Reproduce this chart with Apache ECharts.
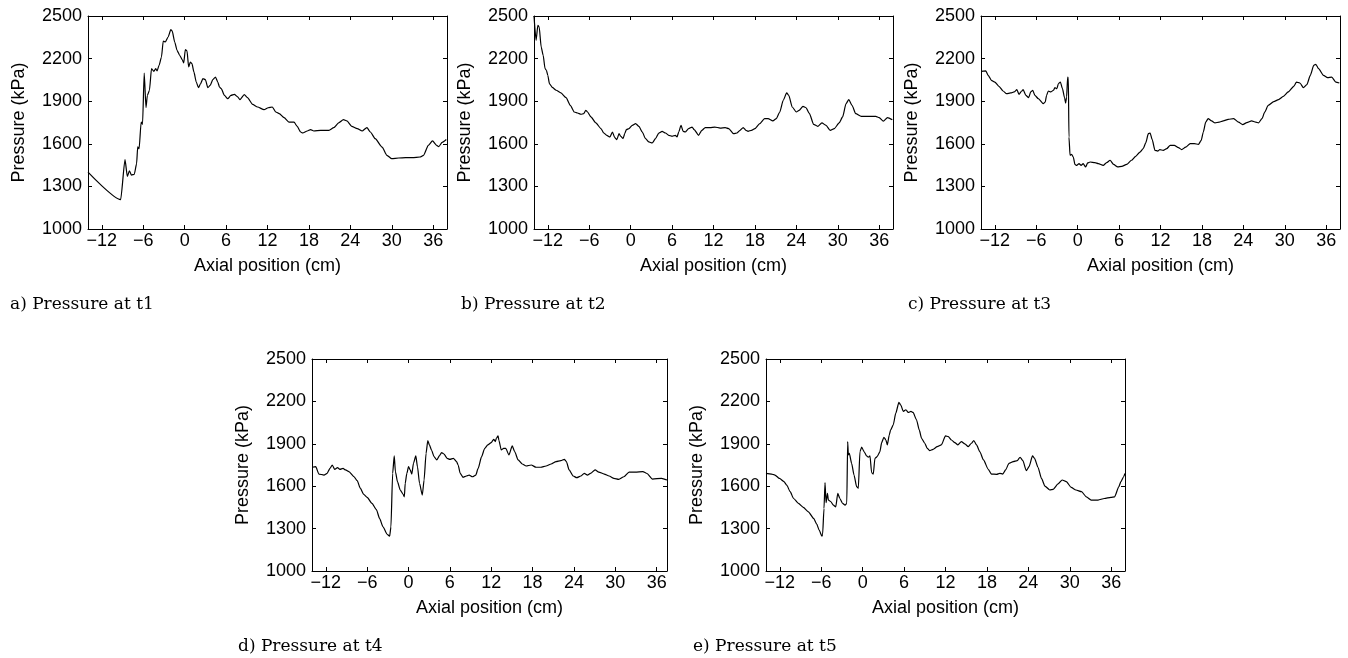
<!DOCTYPE html>
<html>
<head>
<meta charset="utf-8">
<title>Pressure profiles</title>
<script src="https://cdn.jsdelivr.net/npm/echarts@6.0.0/dist/echarts.min.js"></script>
<style>
  html, body { margin: 0; padding: 0; background: #fff; }
  #chart { width: 1348px; height: 658px; }
</style>
</head>
<body>
<div id="chart"></div>
<script>
// tick labels
const axialTicks = [-12, -6, 0, 6, 12, 18, 24, 30, 36];
const pressureTicks = [1000, 1300, 1600, 1900, 2200, 2500];
const captions = ['a) Pressure at t1', 'b) Pressure at t2', 'c) Pressure at t3', 'd) Pressure at t4', 'e) Pressure at t5'];

// t1 : axial position (cm) / pressure (kPa)
const posT1 = [-14, -9.27, -8.64, -8.3, -8.0, -7.7, -7.3, -6.96, -6.8, -6.6,
  -6.3, -6.1, -5.86, -5.6, -5.4, -5.1, -4.8, -4.46, -4.2, -4.0,
  -3.7, -3.36, -3.1, -2.8, -2.4, -2.0, -1.8, -1.44, -1.1, -0.72,
  -0.34, -0.14, 0.1, 0.34, 0.58, 0.82, 1.06, 1.34, 1.68, 2.0,
  2.3, 2.64, 3.0, 3.36, 3.7, 4.08, 4.46, 4.8, 5.04, 5.3,
  5.76, 6.24, 6.7, 7.2, 7.68, 8.0, 8.64, 9.1, 9.84, 10.56,
  11.5, 12.1, 12.7, 13.2, 13.7, 14.4, 15.1, 15.84, 16.3, 16.8,
  17.1, 17.76, 18.24, 18.7, 19.7, 20.9, 21.6, 22.3, 23.0, 23.5,
  24.2, 25.0, 25.7, 26.4, 26.9, 27.6, 28.6, 29.3, 30.0, 31.0,
  32.0, 33.0, 34.1, 34.6, 35.3, 35.9, 36.5, 36.8, 37.3, 37.9];
const presT1 = [1400, 1207, 1488, 1370, 1410, 1380, 1385, 1460, 1578, 1565,
  1753, 1737, 2098, 1855, 1941, 1977, 2129, 2110, 2129, 2113,
  2153, 2211, 2324, 2317, 2352, 2404, 2394, 2317, 2258, 2223,
  2192, 2169, 2263, 2254, 2141, 2176, 2164, 2106, 2035, 1995,
  2023, 2059, 2052, 1995, 2012, 2052, 2070, 2035, 2000, 1988,
  1941, 1918, 1941, 1948, 1930, 1911, 1946, 1925, 1878, 1859,
  1840, 1854, 1859, 1824, 1812, 1784, 1753, 1753, 1723, 1683,
  1676, 1690, 1700, 1690, 1695, 1695, 1714, 1747, 1770, 1761,
  1723, 1707, 1690, 1714, 1683, 1636, 1577, 1519, 1495, 1500,
  1502, 1502, 1507, 1519, 1589, 1620, 1589, 1580, 1610, 1630];

// t2
const posT2 = [-14, -13.7, -13.44, -13.25, -12.96, -12.67, -12.4, -12.2, -12.0, -11.76,
  -11.3, -10.8, -10.1, -9.36, -8.74, -8.16, -7.7, -7.2, -6.8, -6.5,
  -6.24, -5.76, -5.04, -4.3, -3.9, -3.46, -3.0, -2.64, -2.3, -2.0,
  -1.68, -1.44, -1.1, -0.86, -0.62, -0.24, 0.24, 0.72, 1.2, 1.68,
  2.16, 2.64, 3.12, 3.6, 4.08, 4.56, 5.04, 5.52, 6.0, 6.48,
  6.72, 6.96, 7.3, 7.6, 7.9, 8.4, 8.9, 9.2, 9.84, 10.3,
  10.8, 11.5, 12.2, 12.96, 13.7, 14.2, 14.9, 15.4, 15.84, 16.3,
  16.7, 17.0, 17.5, 18.0, 18.7, 19.4, 19.9, 20.6, 21.1, 21.6,
  22.1, 22.6, 22.9, 23.4, 24.0, 24.4, 24.96, 25.4, 25.9, 26.5,
  27.1, 27.7, 28.3, 28.9, 29.5, 30.2, 30.7, 31.2, 31.6, 32.06,
  32.6, 33.4, 34.3, 35.5, 36.0, 36.6, 37.2, 37.9];
const presT2 = [2500, 2329, 2434, 2423, 2282, 2223, 2129, 2117, 2082, 2023,
  1995, 1977, 1958, 1925, 1871, 1824, 1817, 1808, 1812, 1836,
  1824, 1789, 1747, 1707, 1676, 1660, 1648, 1683, 1643, 1629,
  1671, 1653, 1636, 1671, 1700, 1707, 1730, 1742, 1723, 1683,
  1636, 1613, 1606, 1636, 1676, 1688, 1676, 1660, 1653, 1660,
  1648, 1683, 1730, 1688, 1683, 1707, 1718, 1700, 1660, 1695,
  1714, 1714, 1718, 1711, 1714, 1707, 1671, 1676, 1695, 1714,
  1695, 1688, 1695, 1707, 1742, 1777, 1777, 1761, 1777, 1824,
  1906, 1958, 1941, 1859, 1824, 1836, 1864, 1854, 1812, 1737,
  1723, 1747, 1730, 1695, 1707, 1747, 1789, 1883, 1911, 1871,
  1812, 1793, 1793, 1793, 1784, 1760, 1785, 1770];

// t3
const posT3 = [-14, -13.3, -12.95, -12.5, -12.0, -11.4, -10.8, -10.3, -9.7, -9.2,
  -8.8, -8.5, -8.1, -7.9, -7.5, -7.1, -6.8, -6.5, -6.2, -5.7,
  -4.98, -4.7, -4.5, -4.25, -3.9, -3.5, -3.3, -3.0, -2.8, -2.5,
  -2.2, -1.9, -1.74, -1.6, -1.45, -1.35, -1.26, -1.1, -0.87, -0.63,
  -0.4, -0.14, 0.2, 0.5, 0.8, 1.16, 1.45, 1.8, 2.5, 3.0,
  3.7, 4.2, 4.7, 5.2, 5.8, 6.4, 7.1, 7.8, 8.4, 9.03,
  9.5, 9.86, 10.24, 10.5, 10.8, 11.2, 11.6, 11.9, 12.4, 12.9,
  13.4, 14.0, 14.6, 15.07, 15.65, 16.3, 16.9, 17.5, 17.9, 18.2,
  18.55, 18.9, 19.4, 19.9, 20.5, 21.1, 21.8, 22.6, 23.3, 23.9,
  24.5, 25.2, 25.8, 26.2, 26.7, 27.1, 27.6, 28.4, 29.1, 29.8,
  30.5, 31.3, 31.7, 32.2, 32.7, 33.2, 33.7, 34.2, 34.5, 34.9,
  35.6, 36.2, 36.8, 37.4, 37.9];
const presT3 = [2110, 2113, 2082, 2047, 2035, 2005, 1972, 1953, 1958, 1965,
  1981, 1948, 1972, 1981, 1941, 1925, 1965, 1977, 1941, 1918,
  1883, 1894, 1941, 1972, 1965, 1977, 1995, 1988, 2023, 2035,
  1988, 1925, 1887, 1930, 2070, 2066, 1648, 1519, 1526, 1507,
  1455, 1448, 1460, 1448, 1460, 1437, 1465, 1472, 1467, 1460,
  1448, 1467, 1484, 1455, 1437, 1441, 1455, 1484, 1512, 1542,
  1566, 1606, 1671, 1676, 1629, 1554, 1549, 1559, 1554, 1566,
  1589, 1589, 1573, 1559, 1577, 1601, 1601, 1596, 1624, 1683,
  1753, 1777, 1761, 1747, 1753, 1761, 1772, 1777, 1753, 1735,
  1749, 1761, 1753, 1747, 1777, 1824, 1871, 1897, 1911, 1934,
  1965, 2005, 2035, 2028, 1995, 2017, 2082, 2153, 2160, 2129,
  2082, 2066, 2070, 2035, 2028];

// t4
const posT4 = [-14, -13.46, -13.0, -12.26, -11.8, -11.4, -11.06, -10.7, -10.3, -9.95,
  -9.5, -9.13, -8.65, -7.9, -7.45, -6.97, -6.5, -6.0, -5.3, -4.66,
  -4.2, -3.7, -3.1, -2.74, -2.55, -2.3, -2.07, -1.9, -1.6, -1.2,
  -0.8, -0.6, -0.48, -0.24, 0, 0.24, 0.48, 0.72, 1.06, 1.3,
  1.6, 2.0, 2.26, 2.55, 2.8, 3.03, 3.37, 3.7, 4.1, 4.47,
  4.8, 5.14, 5.6, 6.0, 6.5, 6.97, 7.2, 7.5, 7.9, 8.4,
  8.8, 9.28, 9.76, 10.1, 10.6, 11.06, 11.5, 12.0, 12.36, 12.6,
  12.74, 13.0, 13.1, 13.46, 13.8, 14.1, 14.57, 15.05, 15.4, 15.9,
  16.5, 17.07, 17.8, 18.5, 19.2, 19.95, 20.7, 21.4, 22.1, 22.6,
  22.9, 23.3, 23.9, 24.4, 25.0, 25.5, 25.96, 26.4, 27.07, 27.6,
  28.4, 29.1, 29.8, 30.5, 31.25, 32.0, 32.9, 34.0, 34.6, 35.4,
  36.7, 37.5];
const presT4 = [1734, 1738, 1686, 1679, 1691, 1726, 1750, 1719, 1731, 1719,
  1726, 1715, 1703, 1667, 1639, 1584, 1542, 1521, 1478, 1435,
  1372, 1312, 1260, 1246, 1312, 1691, 1814, 1703, 1632, 1573,
  1544, 1525, 1620, 1691, 1738, 1715, 1686, 1762, 1814, 1738,
  1620, 1537, 1644, 1833, 1923, 1892, 1852, 1809, 1786, 1814,
  1838, 1828, 1797, 1790, 1797, 1774, 1750, 1691, 1663, 1672,
  1679, 1667, 1679, 1726, 1809, 1868, 1892, 1909, 1932, 1916,
  1939, 1956, 1927, 1856, 1868, 1868, 1821, 1885, 1845, 1786,
  1757, 1743, 1750, 1734, 1734, 1743, 1757, 1774, 1781, 1790,
  1774, 1715, 1672, 1660, 1672, 1691, 1679, 1691, 1715, 1700,
  1686, 1672, 1655, 1648, 1667, 1700, 1700, 1703, 1690, 1650,
  1656, 1644];

// t5
const posT5 = [-14, -13.2, -12.7, -12.05, -11.4, -11.0, -10.5, -10.0, -9.3, -8.6,
  -7.86, -7.1, -6.65, -6.3, -5.9, -5.8, -5.6, -5.45, -5.3, -5.1,
  -4.96, -4.6, -4.24, -3.9, -3.6, -3.3, -2.9, -2.55, -2.3, -2.17,
  -2.07, -1.93, -1.6, -1.25, -0.87, -0.63, -0.39, -0.14, 0.2, 0.58,
  0.82, 1.06, 1.3, 1.54, 1.78, 2.1, 2.5, 2.75, 3.08, 3.37,
  3.57, 3.86, 4.05, 4.43, 4.8, 5.25, 5.5, 5.9, 6.27, 6.6,
  7.0, 7.3, 7.8, 8.2, 8.53, 9.0, 9.35, 9.7, 10.2, 10.8,
  11.4, 12.0, 12.4, 12.87, 13.35, 13.8, 14.3, 14.8, 15.3, 15.76,
  16.1, 16.5, 16.96, 17.5, 18.2, 18.65, 19.4, 19.86, 20.3, 20.7,
  21.2, 21.8, 22.4, 22.8, 23.2, 23.7, 24.1, 24.6, 24.9, 25.4,
  25.9, 26.4, 27.1, 27.6, 28.3, 28.9, 29.5, 30.2, 30.9, 31.7,
  32.4, 33.1, 34.1, 35.0, 35.96, 36.5, 37.1, 37.4, 37.8, 38.0];
const presT5 = [1691, 1686, 1679, 1655, 1632, 1608, 1561, 1513, 1478, 1450,
  1419, 1372, 1331, 1289, 1246, 1260, 1442, 1625, 1483, 1549,
  1502, 1490, 1466, 1454, 1549, 1513, 1478, 1466, 1478, 1916,
  1821, 1833, 1762, 1679, 1597, 1585, 1845, 1876, 1845, 1814,
  1805, 1814, 1696, 1686, 1797, 1809, 1845, 1908, 1946, 1927,
  1892, 1963, 1998, 2034, 2117, 2193, 2176, 2129, 2141, 2122,
  2129, 2122, 2070, 1998, 1939, 1904, 1868, 1852, 1861, 1880,
  1892, 1956, 1951, 1927, 1908, 1892, 1916, 1899, 1880, 1904,
  1923, 1892, 1845, 1786, 1719, 1686, 1684, 1691, 1686, 1715,
  1762, 1774, 1781, 1805, 1781, 1710, 1738, 1814, 1797, 1734,
  1655, 1601, 1573, 1578, 1616, 1644, 1632, 1592, 1573, 1561,
  1525, 1502, 1502, 1513, 1521, 1525, 1596, 1632, 1667, 1691];

// panel layout (pixels)
const panels = [
  { pos: posT1, pres: presT1, box: { left: 88, top: 16, width: 359, height: 213 }, xMax: 38, cap: [10, 305] },
  { pos: posT2, pres: presT2, box: { left: 534, top: 16, width: 359, height: 213 }, xMax: 38, cap: [461, 305] },
  { pos: posT3, pres: presT3, box: { left: 981, top: 16, width: 359, height: 213 }, xMax: 38, cap: [908, 305] },
  { pos: posT4, pres: presT4, box: { left: 312, top: 359, width: 355, height: 212 }, xMax: 37.5, cap: [238, 647] },
  { pos: posT5, pres: presT5, box: { left: 766, top: 359, width: 359, height: 212 }, xMax: 38, cap: [693, 647] }
];

const FONT = 'Liberation Sans, Arial, Helvetica, sans-serif';
const minus = v => String(v).replace('-', '\u2212'); // matlab style minus sign
const plain = v => String(v); // no thousands separator

function axisCommon(i) {
  return {
    gridIndex: i,
    type: 'value',
    axisLine: { show: true, onZero: false, lineStyle: { color: '#000', width: 1 } },
    splitLine: { show: false },
  };
}

const grid = [], xAxis = [], yAxis = [], series = [], graphic = [];

panels.forEach((p, i) => {
  grid.push(Object.assign({ containLabel: false }, p.box));

  // bottom x axis with labels
  xAxis.push(Object.assign(axisCommon(i), {
    position: 'bottom',
    min: -14,
    max: p.xMax,
    name: 'Axial position (cm)',
    nameLocation: 'middle',
    nameGap: 28,
    nameTextStyle: { color: '#000', fontFamily: FONT, fontSize: 18 },
    axisTick: { inside: true, length: 4, customValues: axialTicks, lineStyle: { color: '#000' } },
    axisLabel: { customValues: axialTicks, formatter: minus, color: '#000', fontFamily: FONT, fontSize: 18, margin: 3 }
  }));
  // top x axis (box side, ticks only)
  xAxis.push(Object.assign(axisCommon(i), {
    position: 'top',
    min: -14,
    max: p.xMax,
    axisTick: { inside: true, length: 4, customValues: axialTicks, lineStyle: { color: '#000' } },
    axisLabel: { show: false }
  }));

  // left y axis with labels
  yAxis.push(Object.assign(axisCommon(i), {
    position: 'left',
    min: 1000,
    max: 2500,
    name: 'Pressure (kPa)',
    nameLocation: 'middle',
    nameGap: 60,
    nameTextStyle: { color: '#000', fontFamily: FONT, fontSize: 18 },
    axisTick: { inside: true, length: 4, customValues: pressureTicks, lineStyle: { color: '#000' } },
    axisLabel: { customValues: pressureTicks, formatter: plain, color: '#000', fontFamily: FONT, fontSize: 18, margin: 6 }
  }));
  // right y axis (box side, ticks only)
  yAxis.push(Object.assign(axisCommon(i), {
    position: 'right',
    min: 1000,
    max: 2500,
    axisTick: { inside: true, length: 4, customValues: pressureTicks, lineStyle: { color: '#000' } },
    axisLabel: { show: false }
  }));

  series.push({
    type: 'line',
    xAxisIndex: 2 * i,
    yAxisIndex: 2 * i,
    data: p.pos.map((x, k) => [x, p.pres[k]]),
    showSymbol: false,
    smooth: 0.2,
    smoothMonotone: 'x',
    lineStyle: { color: '#000', width: 1.2 },
    animation: false
  });

  graphic.push({
    type: 'text',
    x: p.cap[0],
    y: p.cap[1],
    style: {
      text: captions[i],
      font: '17px "DejaVu Serif", "Liberation Serif", serif',
      fill: '#000',
      verticalAlign: 'middle'
    }
  });
});

const chart = echarts.init(document.getElementById('chart'), null, { renderer: 'canvas' });
chart.setOption({
  backgroundColor: '#fff',
  animation: false,
  grid: grid,
  xAxis: xAxis,
  yAxis: yAxis,
  series: series,
  graphic: graphic
});
</script>
</body>
</html>
